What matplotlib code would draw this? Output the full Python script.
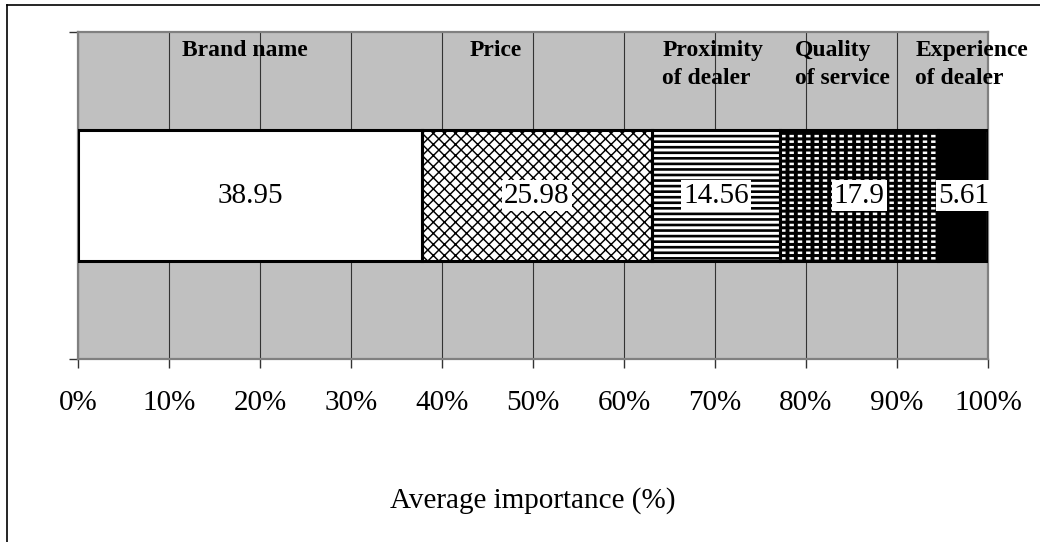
import numpy as np
import matplotlib.pyplot as plt
from matplotlib.lines import Line2D
from matplotlib.ticker import FuncFormatter

plt.rcParams.update({'font.family': ['Liberation Serif', 'DejaVu Serif'],
                     'font.size': 21, 'hatch.linewidth': 1.4})

# Data
factors = ['Brand name', 'Price', 'Proximity\nof dealer', 'Quality\nof service',
           'Experience\nof dealer']
importance = np.array([38.95, 25.98, 14.56, 17.9, 5.61])
value_labels = ['38.95', '25.98', '14.56', '17.9', '5.61']
label_x = [11.4, 43.0, 64.2, 78.8, 92.0]   # where the factor names sit (in %)

share = importance / importance.sum() * 100
starts = np.concatenate([[0], np.cumsum(share)[:-1]])

fig = plt.figure(figsize=(10.4, 5.42), dpi=100)
ax = fig.add_axes([0.075, 0.3376, 0.875, 0.6033])
ax.set_facecolor('#C0C0C0')
ax.set_xlim(0, 100)
ax.set_ylim(-0.5, 0.5)

# vertical gridlines
ax.set_xticks(np.arange(0, 101, 10))
ax.xaxis.grid(True, color='#333333', linewidth=0.8)
ax.set_axisbelow(True)

h = 0.4


def hatched(i, face, hatch, hcolor, lw):
    # hatch linewidth: per patch where supported, else via rcParams at creation
    with plt.rc_context({'hatch.linewidth': lw}):
        b = ax.barh(0, share[i], left=starts[i], height=h, color=face,
                    edgecolor=hcolor, linewidth=0, hatch=hatch)
    for p in b:
        if hasattr(p, 'set_hatch_linewidth'):
            p.set_hatch_linewidth(lw)
    return b


# Brand name: plain white
ax.barh(0, share[0], left=starts[0], height=h, color='white', linewidth=0)

# Price: diagonal cross hatch
hatched(1, 'white', 'xxx', 'black', 1.05)

# Proximity: horizontal lines
hatched(2, 'white', '---', 'black', 1.9)

# Quality of service: black with white dashes
ax.barh(0, share[3], left=starts[3], height=h, color='black', linewidth=0)
hatched(3, 'none', '---', 'white', 1.8)
hatched(3, 'none', '||', 'black', 2.8)

# Experience of dealer: solid black
ax.barh(0, share[4], left=starts[4], height=h, color='black', linewidth=0)

# outlines of each segment
ax.barh(0, share, left=starts, height=h, color='none', edgecolor='black',
        linewidth=2.2, zorder=3)

for s, w, txt in zip(starts, share, value_labels):
    ax.text(s + w / 2, 0, txt, ha='center', va='center', fontsize=21, zorder=4,
            bbox=dict(facecolor='white', edgecolor='none', pad=1.5))

for x, name in zip(label_x, factors):
    ax.text(x, 0.475, name, ha='left', va='top', fontsize=17,
            fontweight='bold', linespacing=1.4, zorder=4)

ax.xaxis.set_major_formatter(FuncFormatter(lambda v, p: '%d%%' % v))
ax.tick_params(axis='x', direction='out', length=6.5, width=1, pad=16,
               labelsize=21, color='#333333')
ax.set_yticks([-0.5, 0.5])
ax.set_yticklabels([])
ax.tick_params(axis='y', direction='out', length=6.5, width=1, color='#333333')
ax.set_xlabel('Average importance (%)', fontsize=21, labelpad=51)

for sp in ax.spines.values():
    sp.set_color('#808080')
    sp.set_linewidth(1.6)

# outer chart border (left and top)
fig.add_artist(Line2D([0.0068, 0.0068], [0, 0.991], color='black', linewidth=1.2,
                      transform=fig.transFigure))
fig.add_artist(Line2D([0.0068, 1], [0.991, 0.991], color='black', linewidth=1.2,
                      transform=fig.transFigure))

fig.savefig('out.png', dpi=100)
